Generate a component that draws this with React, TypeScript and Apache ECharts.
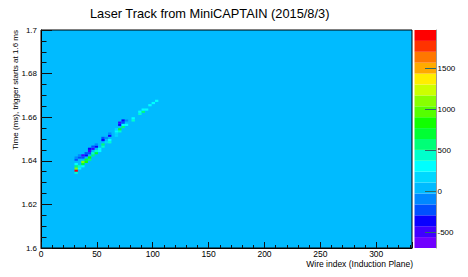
import React, { useEffect, useRef } from "react";
import * as echarts from "echarts";

const TITLE = "Laser Track from MiniCAPTAIN (2015/8/3)";
const X_TITLE = "Wire index (Induction Plane)";
const Y_TITLE = "Time (ms), trigger starts at 1.6 ms";

const X_RANGE = [0, 332];
const Y_RANGE = [1.6, 1.7];
const Z_RANGE = [-690, 1970];
const Z_TICKS = [-500, 0, 500, 1000, 1500];

// palette from bottom (lowest) to top (highest), 20 contour bands
const PALETTE = [
  "#7000ff", "#4000ff", "#0a00ff", "#0050ff", "#0088ff",
  "#00bbff", "#00d8ff", "#00ffff", "#00ffcc", "#00ff77",
  "#00ff33", "#11ff00", "#55ff00", "#88ff00", "#ccff00",
  "#ffee00", "#ffaa00", "#ff7700", "#ff3300", "#ff0000",
];

const WIRE_BIN = 3;
const TIME_BIN = 0.001;

// [wire (bin low edge), time ms (bin low edge), ADC value]
const TRACK: [number, number, number][] = [
  [30, 1.634, 450], [30, 1.635, 1850], [30, 1.636, 1150], [30, 1.637, 600], [30, 1.638, 250], [30, 1.640, -250], [30, 1.641, -150],
  [33, 1.636, 300], [33, 1.637, 450], [33, 1.641, -200], [33, 1.642, -100],
  [36, 1.637, 350], [36, 1.638, 700], [36, 1.639, 1100], [36, 1.641, -250], [36, 1.642, -450],
  [39, 1.639, 900], [39, 1.640, 650], [39, 1.642, -350], [39, 1.643, -200],
  [42, 1.640, 550], [42, 1.641, 800], [42, 1.643, -200], [42, 1.644, -450], [42, 1.645, -300],
  [45, 1.642, 600], [45, 1.643, 400], [45, 1.645, -500], [45, 1.646, -250],
  [48, 1.643, 700], [48, 1.644, 450], [48, 1.646, -350], [48, 1.647, -150],
  [51, 1.644, 250], [51, 1.645, 300],
  [54, 1.646, 400], [54, 1.647, 550], [54, 1.649, -400], [54, 1.650, -200],
  [57, 1.648, 200], [57, 1.650, -150],
  [60, 1.648, 450], [60, 1.649, 300], [60, 1.651, -350], [60, 1.652, -150],
  [66, 1.651, 150], [66, 1.652, 200], [66, 1.653, 250], [66, 1.654, 150],
  [69, 1.653, 450], [69, 1.654, 700], [69, 1.656, -300], [69, 1.657, -500],
  [72, 1.655, 550], [72, 1.656, 350], [72, 1.657, -200], [72, 1.658, -400],
  [75, 1.656, 300], [75, 1.658, -150],
  [81, 1.658, 500], [81, 1.659, 300],
  [87, 1.661, 450], [87, 1.662, 300],
  [90, 1.662, 550], [90, 1.663, 350],
  [93, 1.663, 300],
  [96, 1.665, 250],
  [99, 1.666, 300],
  [102, 1.667, 350],
];

const FONT = "Liberation Sans, Arial, Helvetica, sans-serif";
const BAND = (Z_RANGE[1] - Z_RANGE[0]) / PALETTE.length;

function colorFor(v: number) {
  let i = Math.floor((v - Z_RANGE[0]) / BAND);
  if (i < 0) i = 0;
  if (i > PALETTE.length - 1) i = PALETTE.length - 1;
  return PALETTE[i];
}

const ZERO_COLOR = colorFor(0);

export default function App() {
  const ref = useRef<HTMLDivElement>(null);
  useEffect(() => {
    if (!ref.current) return;
    const chart = echarts.init(ref.current, undefined, { renderer: "svg" });
    const tickColor = "#111";
    chart.setOption({
      animation: false,
      backgroundColor: "#fff",
      textStyle: { fontFamily: FONT },
      title: {
        text: TITLE,
        left: 90,
        top: 7,
        padding: 0,
        textStyle: { fontSize: 12.8, fontWeight: "normal", color: "#000", fontFamily: FONT },
      },
      grid: [
        {
          left: 41, top: 30, width: 371, height: 218,
          show: true, backgroundColor: ZERO_COLOR, borderColor: "#000", borderWidth: 1,
        },
        { left: 414.5, top: 30, width: 21.5, height: 218, show: false },
      ],
      xAxis: [
        {
          gridIndex: 0, type: "value", min: X_RANGE[0], max: X_RANGE[1], interval: 50, z: 10,
          axisLine: { show: true, onZero: false, lineStyle: { color: "#000", width: 1 } },
          axisTick: { show: true, inside: true, length: 6, lineStyle: { color: tickColor } },
          minorTick: { show: true, splitNumber: 5, length: 3, lineStyle: { color: tickColor } },
          axisLabel: { fontSize: 8.5, color: "#000", margin: 1, showMaxLabel: false, fontFamily: FONT },
          splitLine: { show: false },
        },
        { gridIndex: 1, type: "value", min: 0, max: 1, show: false },
      ],
      yAxis: [
        {
          gridIndex: 0, type: "value", min: Y_RANGE[0], max: Y_RANGE[1], interval: 0.02, z: 10,
          axisLine: { show: true, onZero: false, lineStyle: { color: "#000", width: 1 } },
          axisTick: { show: true, inside: true, length: 11, lineStyle: { color: tickColor } },
          minorTick: { show: true, splitNumber: 4, length: 5.5, lineStyle: { color: tickColor } },
          axisLabel: { fontSize: 8, color: "#000", margin: 4, fontFamily: FONT },
          splitLine: { show: false },
        },
        {
          gridIndex: 1, type: "value", min: Z_RANGE[0], max: Z_RANGE[1], position: "right", z: 10,
          axisLine: { show: true, onZero: false, lineStyle: { color: "#999", width: 1 } },
          axisTick: { show: true, inside: true, length: 11, customValues: Z_TICKS, lineStyle: { color: "#2a6a6a" } },
          axisLabel: {
            fontSize: 8, color: "#000", margin: 1.5, customValues: Z_TICKS, fontFamily: FONT,
            formatter: (v: number) => String(v),
          },
          splitLine: { show: false },
        },
      ],
      graphic: [
        {
          type: "text", x: 15, y: 30, rotation: Math.PI / 2,
          style: { text: Y_TITLE, fontSize: 8, fontFamily: FONT, fill: "#000", align: "right", verticalAlign: "middle" },
        },
        {
          type: "text", x: 413, y: 263.5,
          style: { text: X_TITLE, fontSize: 8.5, fontFamily: FONT, fill: "#000", align: "right", verticalAlign: "middle" },
        },
      ],
      series: [
        {
          type: "custom",
          xAxisIndex: 0, yAxisIndex: 0,
          encode: { x: 0, y: 1 },
          data: TRACK,
          clip: true,
          z: 1,
          renderItem: (params: any, api: any) => {
            const w = api.value(0), t = api.value(1), v = api.value(2);
            const p0 = api.coord([w, t + TIME_BIN]);
            const p1 = api.coord([w + WIRE_BIN, t]);
            return {
              type: "rect",
              shape: { x: p0[0], y: p0[1], width: p1[0] - p0[0], height: p1[1] - p0[1] },
              style: { fill: colorFor(v) },
            };
          },
        },
        {
          type: "custom",
          xAxisIndex: 1, yAxisIndex: 1,
          data: PALETTE.map((c, i) => [i]),
          z: 1,
          renderItem: (params: any, api: any) => {
            const i = api.value(0);
            const lo = Z_RANGE[0] + i * BAND;
            const hi = lo + BAND;
            const p0 = api.coord([0, hi]);
            const p1 = api.coord([1, lo]);
            return {
              type: "rect",
              shape: { x: p0[0], y: p0[1], width: p1[0] - p0[0], height: p1[1] - p0[1] },
              style: { fill: PALETTE[i] },
            };
          },
        },
      ],
    });
    return () => chart.dispose();
  }, []);
  return <div ref={ref} style={{ position: "fixed", left: 0, top: 0, width: 468, height: 277 }} />;
}
